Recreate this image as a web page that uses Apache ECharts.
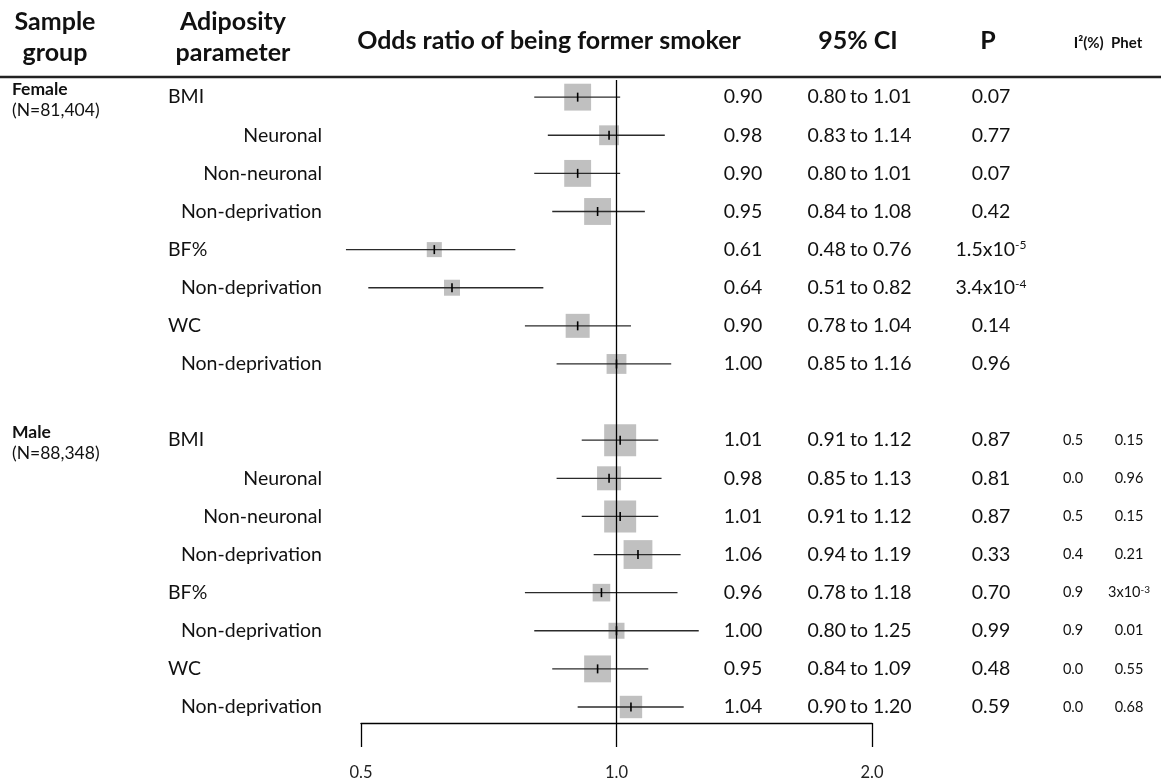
<!DOCTYPE html>
<html>
<head>
<meta charset="utf-8">
<script src="https://cdn.jsdelivr.net/npm/echarts@6/dist/echarts.min.js"></script>
<style>
  html, body { margin: 0; padding: 0; background: #fff; }
  #chart { width: 1161px; height: 781px; }
</style>
</head>
<body>
<div id="chart"></div>
<script>
// ---- Data ----
const groupNames = ['Female', 'Male'];
const groupSizes = ['(N=81,404)', '(N=88,348)'];
const parameters = ['BMI', 'Neuronal', 'Non-neuronal', 'Non-deprivation', 'BF%', 'Non-deprivation', 'WC', 'Non-deprivation'];
const isSubRow = [false, true, true, true, false, true, false, true];

const femaleOR = [0.90, 0.98, 0.90, 0.95, 0.61, 0.64, 0.90, 1.00];
const femaleLo = [0.80, 0.83, 0.80, 0.84, 0.48, 0.51, 0.78, 0.85];
const femaleHi = [1.01, 1.14, 1.01, 1.08, 0.76, 0.82, 1.04, 1.16];
const femaleP = ['0.07', '0.77', '0.07', '0.42', '1.5x10^-5', '3.4x10^-4', '0.14', '0.96'];
const femaleWeight = [0.84, 0.62, 0.84, 0.84, 0.47, 0.50, 0.75, 0.62];

const maleOR = [1.01, 0.98, 1.01, 1.06, 0.96, 1.00, 0.95, 1.04];
const maleLo = [0.91, 0.85, 0.91, 0.94, 0.78, 0.80, 0.84, 0.90];
const maleHi = [1.12, 1.13, 1.12, 1.19, 1.18, 1.25, 1.09, 1.20];
const maleP = ['0.87', '0.81', '0.87', '0.33', '0.70', '0.99', '0.48', '0.59'];
const maleI2 = ['0.5', '0.0', '0.5', '0.4', '0.9', '0.9', '0.0', '0.0'];
const malePhet = ['0.15', '0.96', '0.15', '0.21', '3x10^-3', '0.01', '0.55', '0.68'];
const maleWeight = [1.00, 0.75, 1.00, 0.90, 0.55, 0.50, 0.84, 0.70];

const xTicks = [0.5, 1, 2];

// ---- Layout / style ----
const FONT = 'Lato, "Open Sans", sans-serif';
const TXT = '#111';
const MAX_BOX = 32;
const ROWS_PER_GROUP = parameters.length;
const GROUP_GAP = 1;
const BODY_SIZE = 19.5;
const HEAD_SIZE = 25;

function fmt(v) { return v.toFixed(2); }
function supText(s) {
  const i = s.indexOf('^');
  return i < 0 ? s : s.slice(0, i) + '{sup|' + s.slice(i + 1) + '}';
}

// Build one record per row
const rows = [];
[[femaleOR, femaleLo, femaleHi, femaleP, femaleWeight, null, null],
 [maleOR, maleLo, maleHi, maleP, maleWeight, maleI2, malePhet]].forEach((g, gi) => {
  const [or, lo, hi, p, w, i2, ph] = g;
  for (let k = 0; k < ROWS_PER_GROUP; k++) {
    rows.push({
      pos: gi * (ROWS_PER_GROUP + GROUP_GAP) + k,
      group: gi, first: k === 0,
      label: parameters[k], sub: isSubRow[k],
      or: or[k], lo: lo[k], hi: hi[k], w: w[k],
      p: p[k], i2: i2 ? i2[k] : '', phet: ph ? ph[k] : ''
    });
  }
});

const seriesData = rows.map(r => [r.or, r.pos, r.lo, r.hi, r.w]);

function supRich(size) {
  return { sup: { fontSize: size, fontFamily: FONT, verticalAlign: 'top', lineHeight: size + 1, fill: TXT, color: TXT } };
}

function txt(text, x, y, size, align, weight, rich) {
  const st = {
    text: text, x: x, y: y,
    fill: TXT, textAlign: align, textVerticalAlign: 'middle',
    fontSize: size, fontFamily: FONT, fontWeight: weight || 'normal'
  };
  if (rich) st.rich = rich;
  return { type: 'text', silent: true, style: st };
}

function renderRow(params, api) {
  const r = rows[params.dataIndex];
  const c = api.coord([api.value(0), api.value(1)]);
  const pl = api.coord([api.value(2), api.value(1)]);
  const ph = api.coord([api.value(3), api.value(1)]);
  const s = api.value(4) * MAX_BOX;
  const y = c[1];
  const children = [
    { type: 'rect', shape: { x: c[0] - s / 2, y: y - s / 2, width: s, height: s },
      style: { fill: '#c0c0c0' } },
    { type: 'line', shape: { x1: pl[0], y1: y, x2: ph[0], y2: y },
      style: { stroke: '#2b2b2b', lineWidth: 1.3 } },
    { type: 'line', shape: { x1: c[0], y1: y - 4.5, x2: c[0], y2: y + 4.5 },
      style: { stroke: '#000', lineWidth: 1.6 } }
  ];
  if (r.first) {
    children.push(txt(groupNames[r.group], 12, y - 8, 17.5, 'left', 'bold'));
    children.push(txt(groupSizes[r.group], 12, y + 13, 17.5, 'left'));
  }
  children.push(r.sub ? txt(r.label, 322, y, BODY_SIZE, 'right') : txt(r.label, 168, y, BODY_SIZE, 'left'));
  children.push(txt(fmt(r.or), 743, y, BODY_SIZE, 'center'));
  // lower bound, "to", upper bound as three aligned pieces
  children.push(txt(fmt(r.lo), 846, y, BODY_SIZE, 'right'));
  children.push(txt('to', 859, y, BODY_SIZE, 'center'));
  children.push(txt(fmt(r.hi), 873, y, BODY_SIZE, 'left'));
  children.push(txt(supText(r.p), 991, y, BODY_SIZE, 'center', 'normal', supRich(12)));
  if (r.i2) {
    children.push(txt(r.i2, 1073, y, 14.5, 'center'));
    children.push(txt(supText(r.phet), 1129, y, 14.5, 'center', 'normal', supRich(10)));
  }
  return { type: 'group', children: children };
}

const chart = echarts.init(document.getElementById('chart'), null, { renderer: 'canvas' });

function header(text, x, y, size, lh) {
  return { type: 'text', silent: true, style: { text: text, x: x, y: y, textAlign: 'center', textVerticalAlign: 'middle',
    fontSize: size, fontWeight: 'bold', fontFamily: FONT, lineHeight: lh || size + 6, fill: TXT } };
}

const option = {
  backgroundColor: '#fff',
  animation: false,
  grid: { left: 361, width: 511, top: 80, height: 643 },
  xAxis: {
    type: 'log', logBase: 2, min: xTicks[0], max: xTicks[xTicks.length - 1], interval: 1,
    position: 'bottom',
    axisLine: { show: true, onZero: false, lineStyle: { color: '#000', width: 1.3 } },
    axisTick: { show: true, inside: false, length: 24, lineStyle: { color: '#000', width: 1.3 } },
    axisLabel: { margin: 41, fontSize: 16.5, fontFamily: FONT, color: '#222',
      formatter: v => Number(v).toFixed(1) },
    splitLine: { show: false }
  },
  yAxis: {
    type: 'value', inverse: true, min: -0.45, max: 16.42, show: false
  },
  graphic: [
    { type: 'line', shape: { x1: 0, y1: 77, x2: 1161, y2: 77 }, style: { stroke: '#222', lineWidth: 2.5 } },
    header('Sample\ngroup', 55, 37, HEAD_SIZE, 31),
    header('Adiposity\nparameter', 233, 37, HEAD_SIZE, 31),
    header('Odds ratio of being former smoker', 549, 41, HEAD_SIZE),
    header('95% CI', 858, 41, HEAD_SIZE),
    header('P', 988, 41, HEAD_SIZE),
    header('I²(%)  Phet', 1108, 43, 15)
  ],
  series: [{
    type: 'custom',
    clip: false,
    renderItem: renderRow,
    data: seriesData,
    encode: { x: 0, y: 1 },
    markLine: {
      silent: true, symbol: 'none', animation: false,
      label: { show: false },
      lineStyle: { color: '#000', width: 1.3, type: 'solid' },
      data: [{ xAxis: 1 }]
    }
  }]
};

chart.setOption(option);
</script>
</body>
</html>
